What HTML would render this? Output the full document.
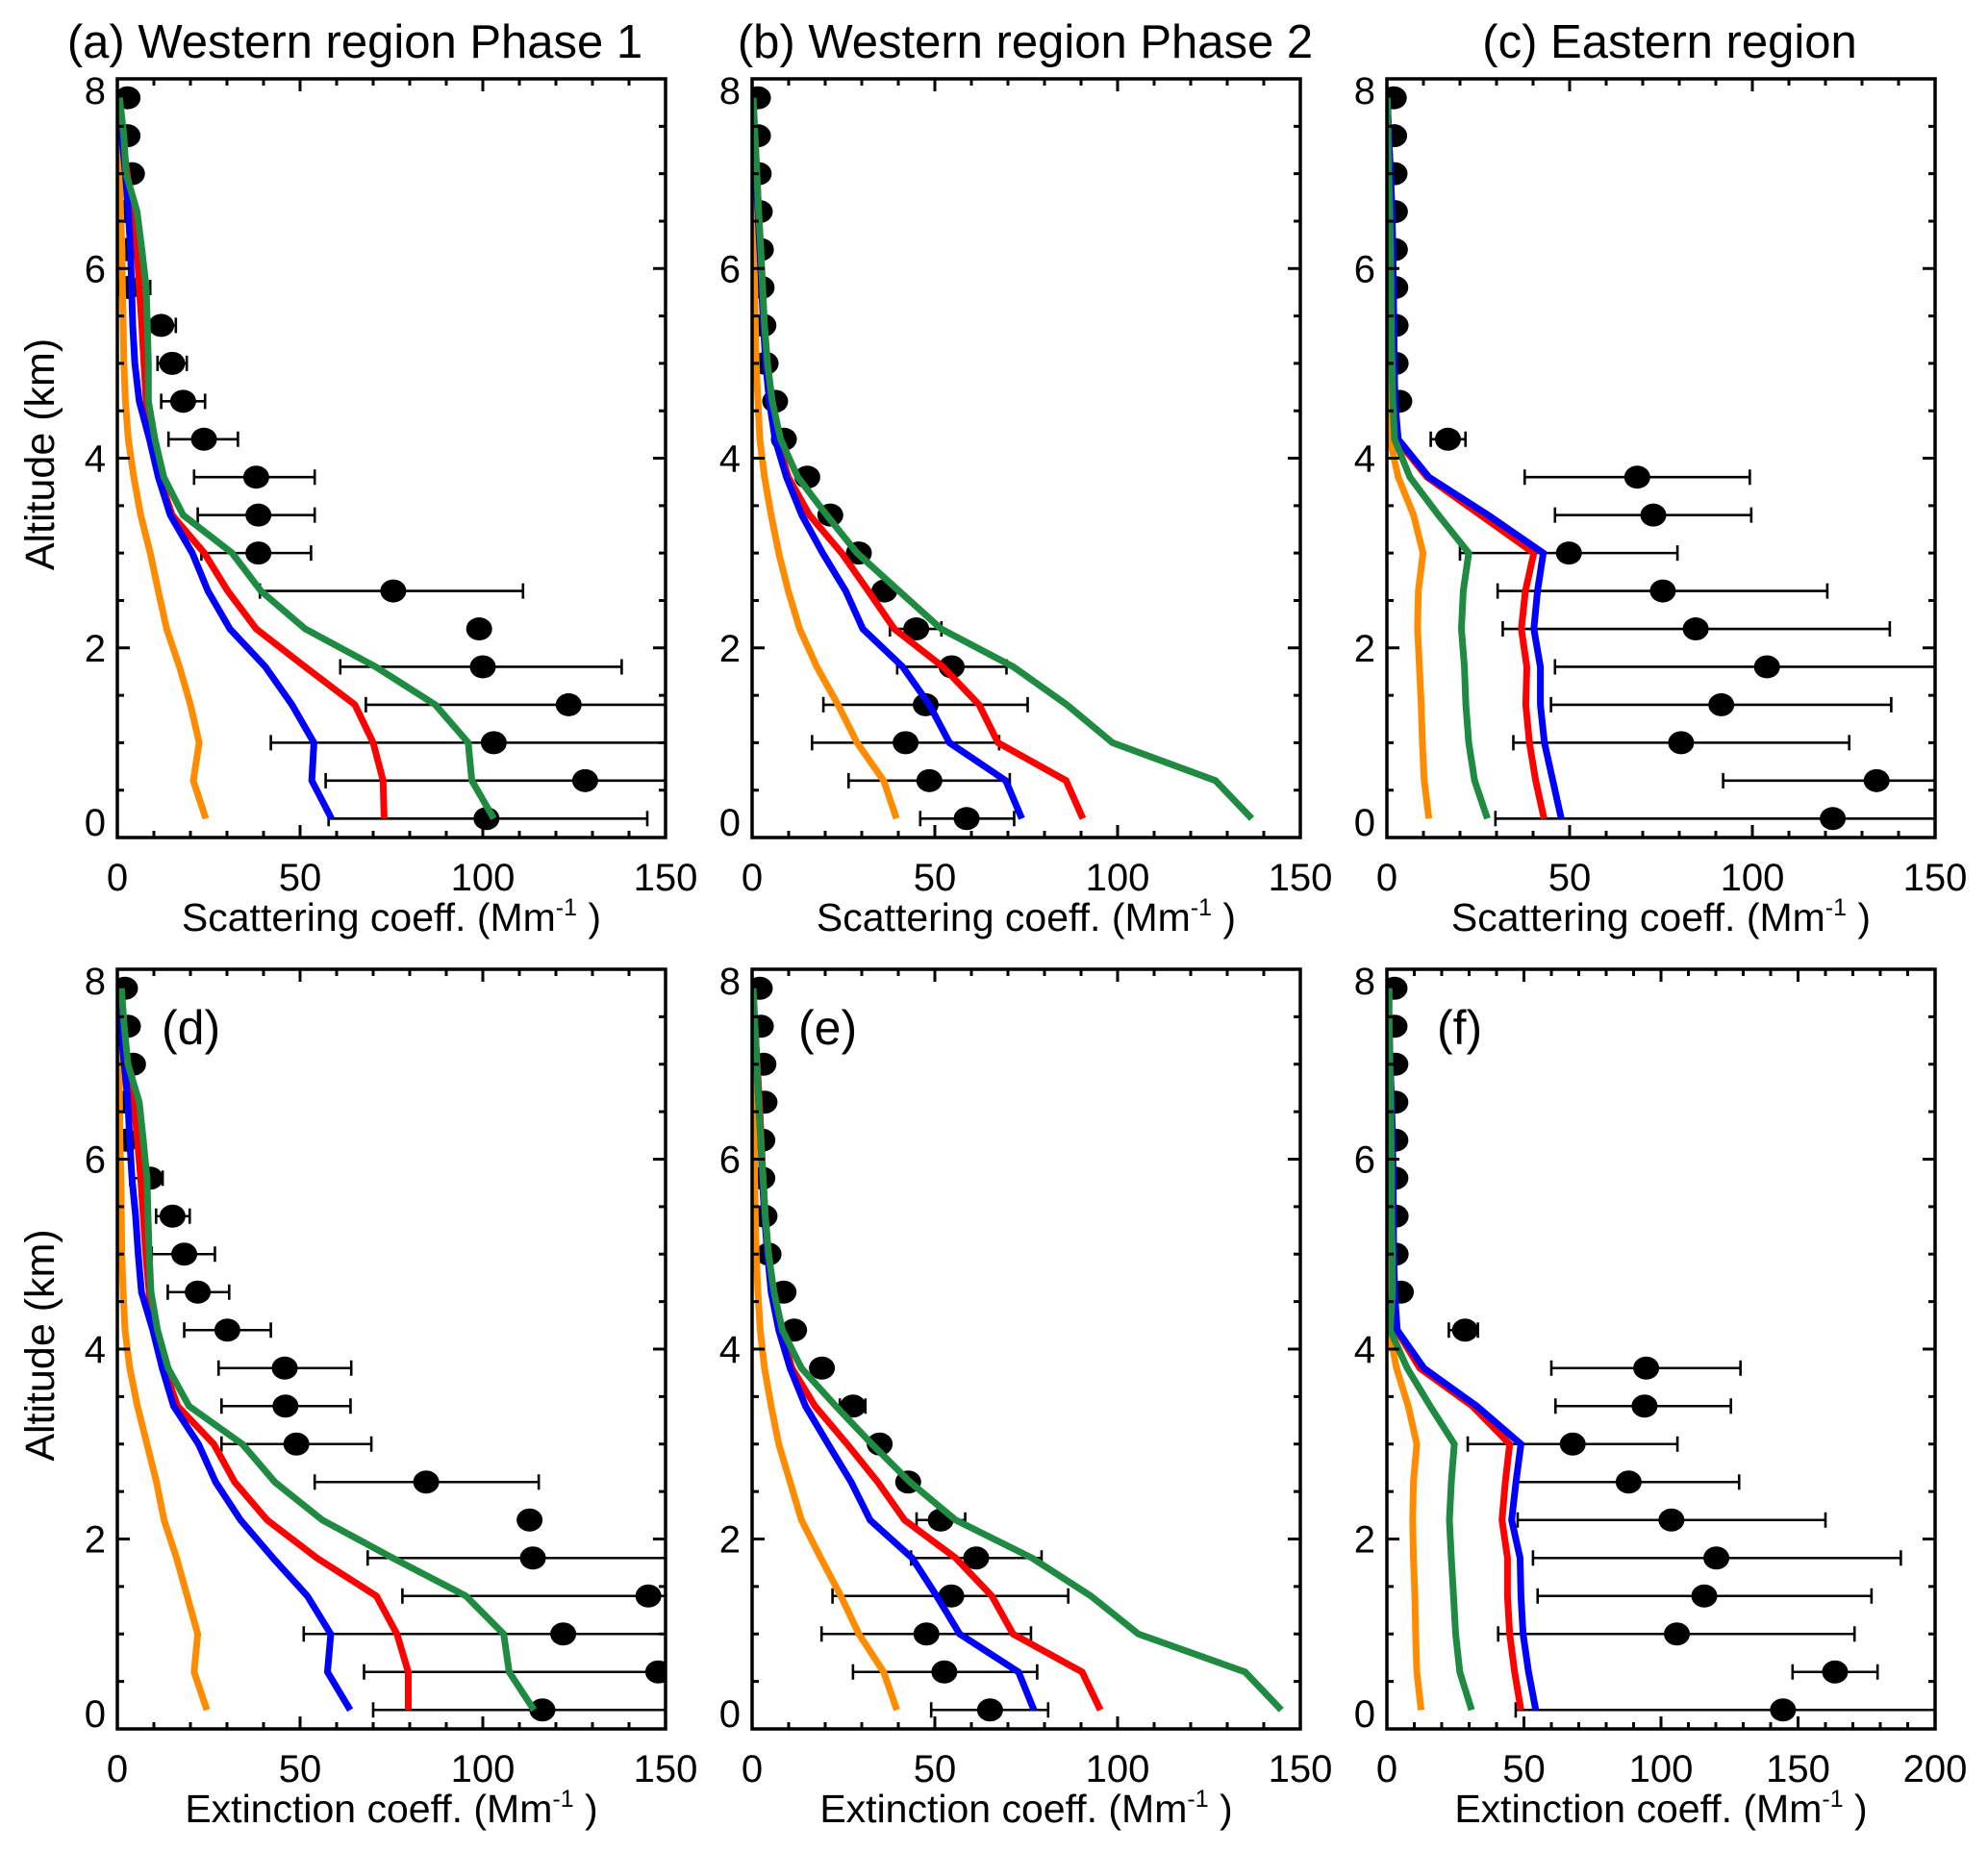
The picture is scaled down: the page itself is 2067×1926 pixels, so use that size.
<!DOCTYPE html>
<html><head><meta charset="utf-8"><title>Aerosol vertical profiles</title>
<style>
html,body{margin:0;padding:0;background:#fff;}
svg{display:block;font-family:"Liberation Sans",Arial,sans-serif;}
</style></head>
<body>
<svg id="chart" xmlns="http://www.w3.org/2000/svg" width="2067" height="1926" viewBox="0 0 2067 1926">
<rect x="0" y="0" width="2067" height="1926" fill="#fff"/>
</svg>
<script>
// altitude levels (km) shared by all profiles
const altitudes = [0.2,0.6,1.0,1.4,1.8,2.2,2.6,3.0,3.4,3.8,4.2,4.6,5.0,5.4,5.8,6.2,6.6,7.0,7.4,7.8];
const altTicks = [0,2,4,6,8];

// panel (a)
const aObs = [101,128,103,123.5,100,99,75.5,38.6,38.6,38,23.7,18,15,12,3,2.5,2,4,2.8,2.8];
const aErrLo = [57.8,57,42,68,61,97,39,23,22,21,14,12,11,10,2,2,1.5,3,2,2];
const aErrHi = [145,160,160,160,138,101,111,53,54,54,33,24,19,16,9,3,2.5,5,3.5,3.5];
const aOrange = [24.2,20.8,22.4,20,17,13.5,11.2,9,6.4,4.5,3,2.2,1.8,1.6,1.4,1.3,0.9,0.6,0.3,0];
const aBlue = [58.6,53.2,53.8,47.8,40.5,30.8,24.8,20.5,14.5,11.2,8.8,6,4.8,4.2,3.9,3.6,3,2.2,1.2,0.4];
const aRed = [73,72.7,70,65,51.4,38,30.2,23.8,15,11.5,9,7.9,7.3,6.7,6,5.4,4.2,2.7,1.2,0.4];
const aGreen = [103,97,96,87,70.7,51.4,39.3,31.4,18,12.7,10.3,8.5,8.5,8.2,7.9,6.7,5.4,2.4,1.8,0.6];

// panel (b)
const bObs = [58.7,48.5,42,47.5,54.6,44.9,36.2,29.2,21.4,15.1,8.7,6.3,3.7,3.1,2.6,2.4,2.1,1.8,1.6,1.6];
const bErrLo = [46,26.4,16.4,19.5,39.7,37.7,36.2,29.2,21.4,15.1,8.7,6.3,3.7,3.1,2.6,2.4,2.1,1.8,1.6,1.6];
const bErrHi = [71.7,70.5,67.6,75.4,69.6,51.8,36.2,29.2,21.4,15.1,8.7,6.3,3.7,3.1,2.6,2.4,2.1,1.8,1.6,1.6];
const bOrange = [39.5,36,28.7,23.5,17.7,13,9.9,7.3,5.2,3.4,2.1,1.6,1.1,0.9,0.7,0.5,0.3,0.2,0.1,0];
const bBlue = [73.8,69.4,54,48.5,41.2,30.3,25.6,19.3,13.6,9.4,6.3,4.7,3.7,3.1,2.6,2.1,1.6,1.0,0.5,0];
const bRed = [90.5,85.9,67.3,62.1,52.2,38.9,31.8,24.5,15.7,9.9,6.8,4.9,3.8,3.3,2.8,2.3,1.8,1.3,0.8,0.2];
const bGreen = [136.7,126.8,98.6,86.1,71.5,51.7,40.2,28.7,20.4,12.5,7.8,5.5,4.2,3.4,2.9,2.4,1.8,1.3,0.8,0.3];

// panel (c)
const cObs = [122,134,80.5,91.5,104,84.5,75.5,49.8,72.9,68.5,16.7,3.4,2.4,2.4,2.3,2.2,2.2,2.1,2,1.9];
const cErrLo = [29.7,92,34.6,44.9,46,31.7,30.3,20,46,37.7,12,3.4,2.4,2.4,2.3,2.2,2.2,2.1,2,1.9];
const cErrHi = [160,160,126.5,138,160,137.6,120.5,79.5,99.7,99.3,21.5,3.4,2.4,2.4,2.3,2.2,2.2,2.1,2,1.9];
const cOrange = [11.5,10.2,9.7,9.4,8.9,8.4,8.6,9.9,7.3,3.1,0.8,0.6,0.5,0.5,0.5,0.4,0.3,0.2,0.1,0];
const cBlue = [47.7,45.4,43.1,42,42,40.2,41.2,42.8,27.7,11.5,3.1,2.2,2.0,1.9,1.8,1.6,1.4,1.0,0.5,0.1];
const cRed = [43,40.7,39,38,38.3,36.8,37.9,40.2,25.6,11,2.6,2.2,2.0,1.9,1.8,1.6,1.4,1.0,0.5,0.1];
const cGreen = [27.5,24,22.4,21.6,21.2,20.4,20.9,22.4,14.1,6.3,2.1,1.6,1.4,1.2,1.1,1.0,0.8,0.5,0.3,0.1];

// panel (d)
const dObs = [116.3,148,122,145.3,113.7,112.8,84.5,49,46,45.8,30.1,22,18.3,15.1,9,2.4,2.4,4.3,2.9,2.1];
const dErrLo = [70,67.5,51,78,68.5,110.5,54,28.5,28.5,27.7,18.3,13.8,9.4,10.6,3.5,2.4,2.4,4.3,2.9,2.1];
const dErrHi = [160,160,160,160,160,115,115.3,69.5,63.8,64,42,30.6,26.7,19.8,12.4,2.4,2.4,4.3,2.9,2.1];
const dOrange = [24.5,21,22,19.1,16.2,12.8,10.7,8.1,5.5,3.4,2.1,1.6,1.2,1.1,1.0,0.7,0.6,0.5,0.3,0];
const dBlue = [63.7,57.5,58.4,52,42.6,33.7,26.9,22.2,15.4,12.3,9.7,6.6,5.7,5,4,3.4,2.9,1.9,0.8,0.1];
const dRed = [79.6,79.6,76.5,70.9,54.6,41,32.1,26.4,16.5,12.8,10.2,8.7,7.8,7.1,6.4,5.5,4.5,2.9,1.4,0.3];
const dGreen = [114,107.2,105.7,95.4,75.4,56.1,43.1,34.2,19.6,13.9,11,9.2,8.7,8.4,8.1,7.1,6,2.9,1.9,1.1];

// panel (e)
const eObs = [65.1,52.6,47.7,54.5,61.3,51.6,42.7,34.9,27.6,19.1,11.5,8.6,4.5,3.4,2.8,2.8,3.4,3.1,2.4,2.1];
const eErrLo = [49,27.6,19,22,43.5,45,42.7,34.9,24,19.1,11.5,8.6,4.5,3.4,2.8,2.8,3.4,3.1,2.4,2.1];
const eErrHi = [81,78,76.3,86.5,79.2,58.3,42.7,34.9,31,19.1,11.5,8.6,4.5,3.4,2.8,2.8,3.4,3.1,2.4,2.1];
const eOrange = [39.6,36,29.2,24.3,18.8,13.5,10.4,7.3,5.2,3.4,2.2,1.6,1.1,0.9,0.7,0.6,0.5,0.4,0.2,0];
const eBlue = [77.1,72.9,56.8,50.5,43.8,32.3,27.1,20.8,14.6,10.4,7.3,5.2,4.2,3.4,2.8,2.4,1.8,1.3,0.8,0.1];
const eRed = [95.3,90.3,71.4,65.6,55.7,41.7,34.4,26,17.2,10.9,7.8,5.7,4.5,3.6,3.0,2.5,2.0,1.4,0.8,0.2];
const eGreen = [144.8,134.9,105.7,92.7,76.6,55.7,43.2,32.8,22.9,13.5,8.3,6,4.5,3.6,3.0,2.4,1.8,1.3,0.8,0.3];

// panel (f)
const fObs = [144.5,163.5,105.8,115.8,120.2,103.8,88.2,67.8,94,94.6,28.5,5.1,3.2,3.2,3.1,3.1,3.1,3.1,2.8,2.8];
const fErrLo = [47,148,40.6,55,53.3,47.7,47,29.5,61.5,60,22.6,5.1,3.2,3.2,3.1,3.1,3.1,3.1,2.8,2.8];
const fErrHi = [210,179,170.6,176.8,187.5,160,128.5,106,125.5,129,33.2,5.1,3.2,3.2,3.1,3.1,3.1,3.1,2.8,2.8];
const fOrange = [12.5,10.9,10.5,10.2,9.7,9.4,9.7,10.9,7.8,3.5,0.8,0.5,0.5,0.5,0.4,0.4,0.3,0.2,0.1,0];
const fBlue = [54.3,51.7,49.7,48.9,48.6,45.5,47.1,48.9,32.8,13.5,3.8,2.8,2.5,2.3,2.3,2.0,1.7,1.2,0.8,0.5];
const fRed = [48.9,46.6,44.8,44,44,42,43.2,44.8,31.2,12,3.5,2.8,2.5,2.3,2.3,2.0,1.7,1.2,0.8,0.5];
const fGreen = [30.9,26.6,25.1,24.3,23.5,22.8,23.5,24.6,15.8,7.4,1.2,2,2,1.7,1.7,1.5,1.4,1.1,0.8,0.8];

const xTicksA = [0,50,100,150];
const xTicksF = [0,50,100,150,200];

const NS = "http://www.w3.org/2000/svg";
const svg = document.getElementById("chart");
const COLORS = {orange:"#ff8c00", red:"#ff0000", blue:"#0000ff", green:"#1f8a42"};

const panels = [
 {id:"a", x0:122, x1:692, top:82, bot:871, xmax:150, ticks:xTicksA, obs:aObs, lo:aErrLo, hi:aErrHi, orange:aOrange, blue:aBlue, red:aRed, green:aGreen, title:"(a) Western region Phase 1", titleX:369, xlab:"Scattering coeff. (Mm", ytitle:true},
 {id:"b", x0:782, x1:1352, top:82, bot:871, xmax:150, ticks:xTicksA, obs:bObs, lo:bErrLo, hi:bErrHi, orange:bOrange, blue:bBlue, red:bRed, green:bGreen, title:"(b)  Western region Phase 2", titleX:1066, xlab:"Scattering coeff. (Mm", ytitle:false},
 {id:"c", x0:1442, x1:2012, top:82, bot:871, xmax:150, ticks:xTicksA, obs:cObs, lo:cErrLo, hi:cErrHi, orange:cOrange, blue:cBlue, red:cRed, green:cGreen, title:"(c) Eastern region", titleX:1736, xlab:"Scattering coeff. (Mm", ytitle:false},
 {id:"d", x0:122, x1:692, top:1008, bot:1798, xmax:150, ticks:xTicksA, obs:dObs, lo:dErrLo, hi:dErrHi, orange:dOrange, blue:dBlue, red:dRed, green:dGreen, label:"(d)", labelX:168, xlab:"Extinction coeff. (Mm", ytitle:true},
 {id:"e", x0:782, x1:1352, top:1008, bot:1798, xmax:150, ticks:xTicksA, obs:eObs, lo:eErrLo, hi:eErrHi, orange:eOrange, blue:eBlue, red:eRed, green:eGreen, label:"(e)", labelX:830, xlab:"Extinction coeff. (Mm", ytitle:false},
 {id:"f", x0:1442, x1:2012, top:1008, bot:1798, xmax:200, ticks:xTicksF, obs:fObs, lo:fErrLo, hi:fErrHi, orange:fOrange, blue:fBlue, red:fRed, green:fGreen, label:"(f)", labelX:1494, xlab:"Extinction coeff. (Mm", ytitle:false}
];

function mk(tag, attrs, parent){
  const el = document.createElementNS(NS, tag);
  for (const k in attrs) el.setAttribute(k, attrs[k]);
  (parent||svg).appendChild(el);
  return el;
}

panels.forEach(p => {
  const g = mk("g", {});
  
  
  const xs = v => p.x0 + v / p.xmax * (p.x1 - p.x0);
  const ys = a => p.top + (8 - a) / 8 * (p.bot - p.top);

  const clip = mk("clipPath", {id:"clip-" + p.id}, g);
  mk("rect", {x:p.x0, y:p.top, width:p.x1 - p.x0, height:p.bot - p.top}, clip);

  const data = mk("g", {"clip-path":"url(#clip-" + p.id + ")"}, g);
  
  

  altitudes.forEach((alt, i) => {
    const y = ys(alt);
    if (p.hi[i] - p.lo[i] > 0.5) {
      const eb = mk("path", {d:`M${xs(p.lo[i])},${y}H${xs(p.hi[i])}M${xs(p.lo[i])},${y-8}V${y+8}M${xs(p.hi[i])},${y-8}V${y+8}`, stroke:"#000", "stroke-width":2.6, fill:"none"}, data);
      
      
    }
    const c = mk("ellipse", {cx:xs(p.obs[i]), cy:y, rx:13.5, ry:12, fill:"#000"}, data);
    
    
  });

  [["orange",p.orange],["red",p.red],["blue",p.blue],["green",p.green]].forEach(([name, arr]) => {
    const d = arr.map((v, i) => (i ? "L" : "M") + xs(v).toFixed(1) + "," + ys(altitudes[i]).toFixed(1)).join("");
    const ln = mk("path", {d:d, stroke:COLORS[name], "stroke-width":7, fill:"none", "stroke-linejoin":"miter"}, data);
    
    
  });

  let td = "";
  for (let v = 0; v <= p.xmax + 0.01; v += 10) {
    const L = (v % 50 === 0) ? 13 : 7;
    const x = xs(v);
    td += `M${x},${p.bot}V${p.bot - L}M${x},${p.top}V${p.top + L}`;
  }
  for (let a = 0; a <= 8.001; a += 0.5) {
    const L = (Math.abs(a % 2) < 0.01) ? 13 : 7;
    const y = ys(a);
    td += `M${p.x0},${y}H${p.x0 + L}M${p.x1},${y}H${p.x1 - L}`;
  }
  const ticks = mk("path", {d:td, stroke:"#000", "stroke-width":3, fill:"none"}, g);
  
  

  const frame = mk("rect", {x:p.x0, y:p.top, width:p.x1 - p.x0, height:p.bot - p.top, fill:"none", stroke:"#000", "stroke-width":3.5}, g);
  
  

  p.ticks.forEach(v => {
    const t = mk("text", {x:xs(v), y:p.bot + 55, "font-size":40, "text-anchor":"middle"}, g);
    t.textContent = v;
    
    
  });
  altTicks.forEach(a => {
    let cy = ys(a);
    if (a === 8) cy = p.top + 12;
    if (a === 0) cy = p.bot - 16;
    const t = mk("text", {x:p.x0 - 12, y:cy + 14, "font-size":40, "text-anchor":"end"}, g);
    t.textContent = a;
    
    
  });

  const xt = mk("text", {x:(p.x0 + p.x1) / 2, y:p.bot + 97, "font-size":41, "text-anchor":"middle"}, g);
  
  
  const t1 = mk("tspan", {}, xt); t1.textContent = p.xlab;
  const t2 = mk("tspan", {dy:-16, "font-size":25}, xt); t2.textContent = "-1";
  const t3 = mk("tspan", {dy:16}, xt); t3.textContent = " )";

  if (p.ytitle) {
    const cy = (p.top + p.bot) / 2 - 4;
    const yt = mk("text", {x:0, y:0, "font-size":43, "text-anchor":"middle", transform:`translate(56,${cy}) rotate(-90)`}, g);
    yt.textContent = "Altitude (km)";
    
    
  }
  if (p.title) {
    const tt = mk("text", {x:p.titleX, y:60, "font-size":49, "text-anchor":"middle"}, g);
    tt.textContent = p.title;
    
    
  }
  if (p.label) {
    const lt = mk("text", {x:p.labelX, y:p.top + 78, "font-size":50}, g);
    lt.textContent = p.label;
    
    
  }
});
</script>
</body></html>
